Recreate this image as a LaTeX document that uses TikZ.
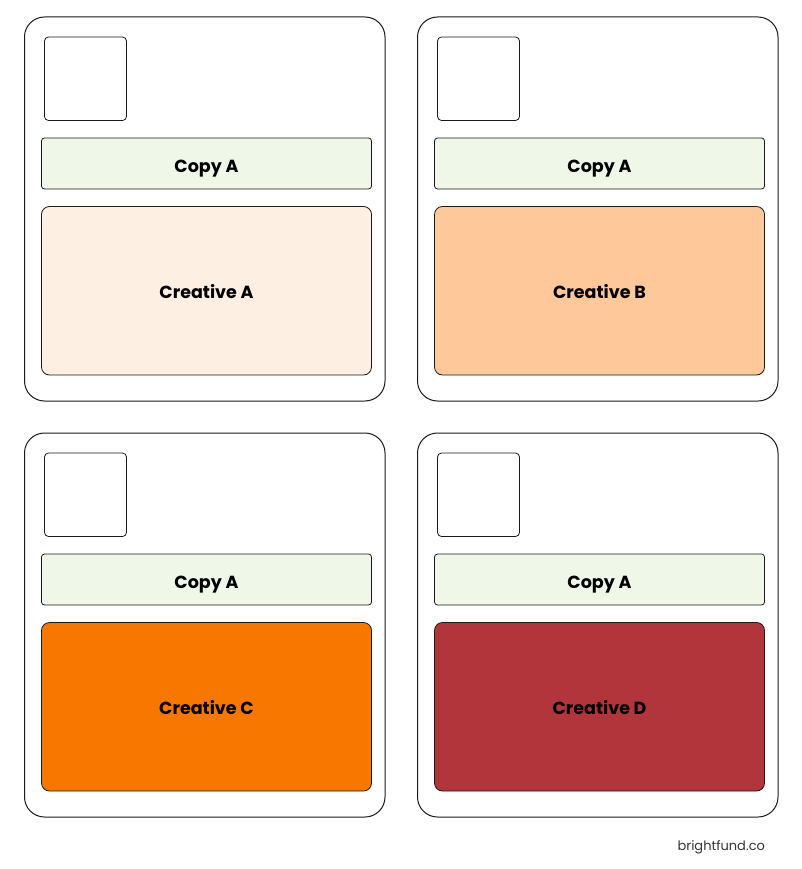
\documentclass[tikz,border=0pt]{standalone}
\usepackage{fontspec}
\setmainfont{Poppins}
\definecolor{copyc}{HTML}{EEF7E8}
\definecolor{crA}{HTML}{FDEFE1}
\definecolor{crB}{HTML}{FEC89A}
\definecolor{crC}{HTML}{F77700}
\definecolor{crD}{HTML}{B2353B}
\definecolor{edge}{HTML}{1A1A1A}
\tikzset{
  card/.style={draw=edge, line width=1pt, fill=white, rounded corners=20pt},
  thumb/.style={draw=edge, line width=0.8pt, fill=white, rounded corners=4pt},
  copybar/.style={draw=edge, line width=0.8pt, fill=copyc, rounded corners=3pt},
  creative/.style={draw=edge, line width=0.8pt, rounded corners=8pt},
  lbl/.style={font=\fontsize{17.5}{19}\selectfont\bfseries, text=black}
}
\begin{document}
\begin{tikzpicture}[x=1pt,y=-1pt]
\useasboundingbox (0,0) rectangle (802,869);
\foreach \dx/\dy/\col/\L/\n in {0/0/crA/A/a, 393/0/crB/B/b, 0/416/crC/C/c, 393/416/crD/D/d}{
  \begin{scope}[shift={(\dx,\dy)}]
    \draw[card] (24.5,17) rectangle (385,401);
    \draw[thumb] (44.5,37) rectangle (126.5,120.5);
    \draw[copybar] (41.5,138) rectangle (371.5,189);
    \node[lbl] (copy\n) at (206.5,168.5) {Copy A};
    \draw[creative, fill=\col] (41.5,206.5) rectangle (371.5,375);
    \node[lbl] (cre\n) at (206.5,291.5) {Creative \L};
  \end{scope}
}
\node[font=\fontsize{13}{15}\selectfont, text=black!80, anchor=east] (brand) at (768.5,847.5) {brightfund.co};
\end{tikzpicture}
\end{document}
